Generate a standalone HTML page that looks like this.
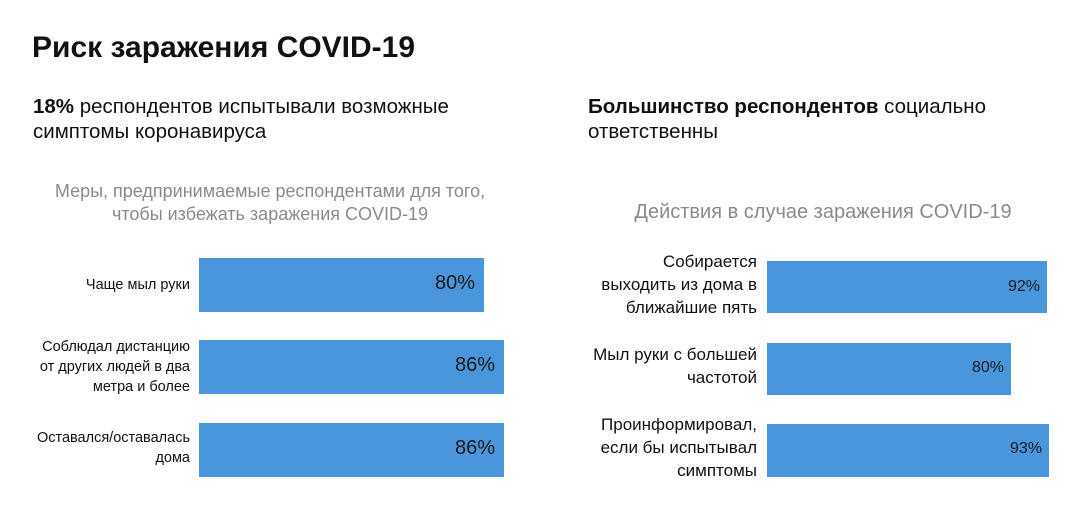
<!DOCTYPE html>
<html><head><meta charset="utf-8"><style>
body{margin:0;width:1080px;height:530px;background:#fff;font-family:"Liberation Sans","Noto Sans CJK SC",sans-serif;position:relative;overflow:hidden;color:#111}
.a{position:absolute;white-space:nowrap}
.bar{position:absolute;background:#4a96dc}
.v{position:absolute;color:#1a1a1a;text-align:right}
.l{position:absolute;text-align:right;white-space:nowrap}
</style></head><body>
<div class="a" style="left:32px;top:31px;font-size:30px;font-weight:bold">Риск заражения COVID-19</div>
<div class="a" style="left:33px;top:94px;font-size:20.5px;line-height:25px"><b>18%</b> респондентов испытывали возможные<br>симптомы коронавируса</div>
<div class="a" style="left:588px;top:94px;font-size:20.5px;line-height:25px"><b>Большинство респондентов</b> социально<br>ответственны</div>

<div class="a" style="left:40px;width:460px;top:180px;font-size:18px;line-height:23px;color:#8a8a8a;text-align:center">Меры, предпринимаемые респондентами для того,<br>чтобы избежать заражения COVID-19</div>
<div class="a" style="left:600px;width:446px;top:201px;font-size:20px;color:#8a8a8a;text-align:center">Действия в случае заражения COVID-19</div>

<div class="bar" style="left:199px;top:258px;width:285px;height:54px"></div>
<div class="bar" style="left:199px;top:340px;width:305px;height:54px"></div>
<div class="bar" style="left:199px;top:423px;width:305px;height:54px"></div>
<div class="v" style="left:300px;width:175px;top:272px;font-size:20px">80%</div>
<div class="v" style="left:300px;width:195px;top:354px;font-size:20px">86%</div>
<div class="v" style="left:300px;width:195px;top:437px;font-size:20px">86%</div>
<div class="l" style="right:890px;top:275px;font-size:14.5px;line-height:20px">Чаще мыл руки</div>
<div class="l" style="right:890px;top:337px;font-size:14.5px;line-height:20px">Соблюдал дистанцию<br>от других людей в два<br>метра и более</div>
<div class="l" style="right:890px;top:428px;font-size:14.5px;line-height:20px">Оставался/оставалась<br>дома</div>

<div class="bar" style="left:767px;top:261px;width:280px;height:52px"></div>
<div class="bar" style="left:767px;top:343px;width:244px;height:52px"></div>
<div class="bar" style="left:767px;top:424px;width:282px;height:53px"></div>
<div class="v" style="left:900px;width:140px;top:278px;font-size:16px">92%</div>
<div class="v" style="left:900px;width:104px;top:359px;font-size:16px">80%</div>
<div class="v" style="left:900px;width:142px;top:440px;font-size:16px">93%</div>
<div class="l" style="right:323px;top:250px;font-size:17px;line-height:23px">Собирается<br>выходить из дома в<br>ближайшие пять</div>
<div class="l" style="right:323px;top:343px;font-size:17px;line-height:23px">Мыл руки с большей<br>частотой</div>
<div class="l" style="right:323px;top:413px;font-size:17px;line-height:23px">Проинформировал,<br>если бы испытывал<br>симптомы</div>
</body></html>
